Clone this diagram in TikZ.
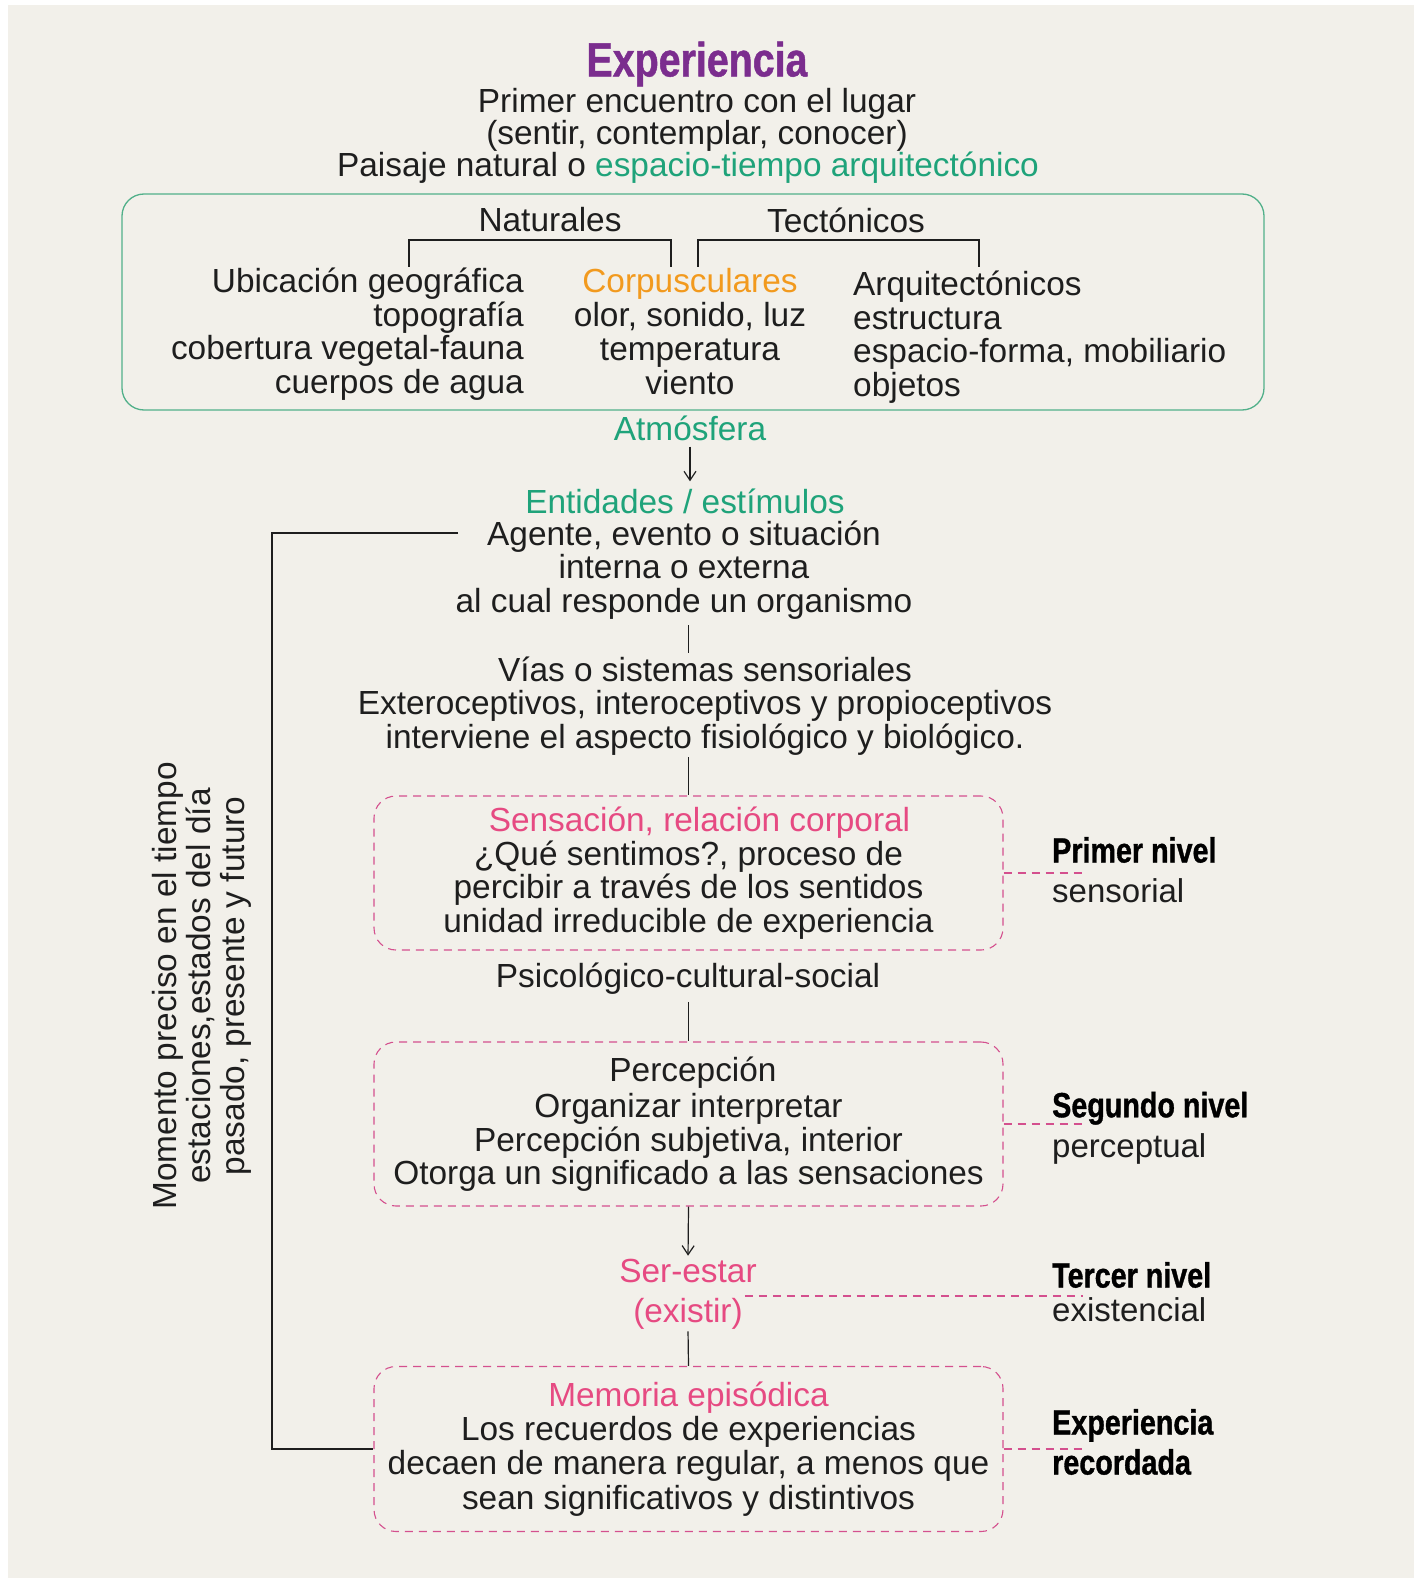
\documentclass[tikz,border=0pt]{standalone}
\usepackage{fontspec}
\setmainfont{Liberation Sans}
\newfontfamily\condb[FakeStretch=0.82, FakeBold=1]{Liberation Sans}
\usetikzlibrary{arrows.meta}
\definecolor{bgc}{HTML}{F2F0EA}
\definecolor{txtc}{HTML}{1E1E1E}
\definecolor{grn}{HTML}{1FA37A}
\definecolor{grnbox}{HTML}{52B08A}
\definecolor{org}{HTML}{F29A1E}
\definecolor{pnk}{HTML}{E64A82}
\definecolor{dpnk}{HTML}{D4508E}
\definecolor{pur}{HTML}{7B2D8E}
\tikzset{
  txt/.style={font=\fontsize{33.4}{33.5}\selectfont, align=center, inner sep=0pt, text=txtc},
  greenbox/.style={draw=grnbox, line width=1.3pt, rounded corners=22pt, inner sep=0pt},
  dashbox/.style={draw=dpnk, line width=1.1pt, dash pattern=on 8pt off 6pt, rounded corners=22pt,
     minimum width=629pt, align=center, inner sep=0pt, text=txtc, font=\fontsize{33.4}{33.5}\selectfont},
  dashlink/.style={draw=dpnk, line width=1.1pt, dash pattern=on 8pt off 6pt},
  conn/.style={draw=txtc, line width=1.2pt},
  arr/.style={conn, -{Straight Barb[length=9pt,width=12pt]}},
  lvl/.style={font=\fontsize{33}{40}\selectfont, align=left, inner sep=0pt, text=txtc, anchor=west},
}
\newcommand{\lvlb}{\fontsize{35}{40}\condb\bfseries\color{black}}
\begin{document}
\begin{tikzpicture}[x=1pt,y=-1pt]
\useasboundingbox (0,0) rectangle (1421,1578);
\fill[white] (0,0) rectangle (1421,1578);
\fill[bgc] (8,5) rectangle (1414,1578);

% header
\node[txt, text=pur, font=\fontsize{48}{48}\condb\bfseries] (title) at (697,64) {Experiencia};
\node[txt, font=\fontsize{33.4}{29.5}\selectfont] (enc) at (697,120) {Primer encuentro con el lugar\\(sentir, contemplar, conocer)};
\node[txt] (pais) at (688,168) {Paisaje natural o \textcolor{grn}{espacio-tiempo arquitectónico}};

% green box
\node[greenbox, minimum width=1142pt, minimum height=216pt] (gbox) at (693,302) {};
\node[txt] (nat) at (550,220) {Naturales};
\node[txt] (tec) at (846,220) {Tectónicos};
\draw[conn] (409,267) |- (671,240) -- (671,267);
\draw[conn] (698,267) |- (979,240) -- (979,267);
\node[txt, align=right, anchor=east] (natl) at (524,334) {Ubicación geográfica\\topografía\\cobertura vegetal-fauna\\cuerpos de agua};
\node[txt, font=\fontsize{33.4}{34}\selectfont] (corp) at (690,332) {\textcolor{org}{Corpusculares}\\olor, sonido, luz\\temperatura\\viento};
\node[txt, align=left, anchor=west] (arq) at (853,337) {Arquitectónicos\\estructura\\espacio-forma, mobiliario\\objetos};

\node[txt, text=grn] (atm) at (690,428) {Atmósfera};
\node[txt, text=grn] (ent) at (685,501) {Entidades / estímulos};
\node[txt] (ag) at (684,570) {Agente, evento o situación\\interna o externa\\al cual responde un organismo};
\node[txt] (vias) at (705,706) {Vías o sistemas sensoriales\\Exteroceptivos, interoceptivos y propioceptivos\\interviene el aspecto fisiológico y biológico.};

\node[dashbox, minimum height=154pt] (sens) at (688.5,873) {\hspace*{22pt}\textcolor{pnk}{Sensación, relación corporal}\\¿Qué sentimos?, proceso de\\percibir a través de los sentidos\\unidad irreducible de experiencia};
\node[txt] (psic) at (688,979) {Psicológico-cultural-social};
\node[dashbox, minimum height=164pt] (perc) at (688.5,1124) {\hspace*{9pt}Percepción\\[3pt]Organizar interpretar\\Percepción subjetiva, interior\\Otorga un significado a las sensaciones};
\node[txt, text=pnk, font=\fontsize{33.4}{40}\selectfont] (ser) at (688,1294) {Ser-estar\\(existir)};
\node[dashbox, minimum height=165pt, font=\fontsize{33.4}{34.2}\selectfont] (mem) at (688.5,1449) {\textcolor{pnk}{Memoria episódica}\\Los recuerdos de experiencias\\decaen de manera regular, a menos que\\sean significativos y distintivos};

% level labels
\node[lvl] (l1) at (1052,870) {{\lvlb Primer nivel}\\sensorial};
\node[lvl] (l2) at (1052,1128) {{\lvlb Segundo nivel}\\perceptual};
\node[lvl, font=\fontsize{33}{34}\selectfont] (l3) at (1052,1292) {{\lvlb Tercer nivel}\\existencial};
\node[lvl] (l4) at (1052,1442) {{\lvlb Experiencia}\\{\lvlb recordada}};

% vertical text
\node[txt, rotate=90, font=\fontsize{33.4}{34}\selectfont] (mom) at (202,986) {Momento preciso en el tiempo\\estaciones,estados del día\\pasado, presente y futuro};

% connectors
\draw[arr, shorten <=6pt, shorten >=7pt] (atm.south) -- (atm.south |- ent.north);
\draw[conn, shorten <=6pt, shorten >=4pt] (ag.south -| sens.north) -- (vias.north -| sens.north);
\draw[conn, shorten <=2pt] (vias.south -| sens.north) -- (sens.north);
\draw[conn, shorten <=7pt] (psic.south -| perc.north) -- (perc.north);
\draw[arr, shorten >=3pt] (perc.south) -- (ser.north);
\draw[conn, shorten <=2pt] (ser.south) -- (mem.north);

\coordinate (brk) at (458,533);
\draw[conn] (brk) -- ++(-186,0) |- (mem.west);

\draw[dashlink] (sens.east) -- ++(80,0);
\draw[dashlink] (perc.east) -- ++(80,0);
\draw[dashlink] (mem.east) -- ++(80,0);
\draw[dashlink] ([xshift=-12pt,yshift=-2pt]ser.east) -- ++(338,0);
\end{tikzpicture}
\end{document}
